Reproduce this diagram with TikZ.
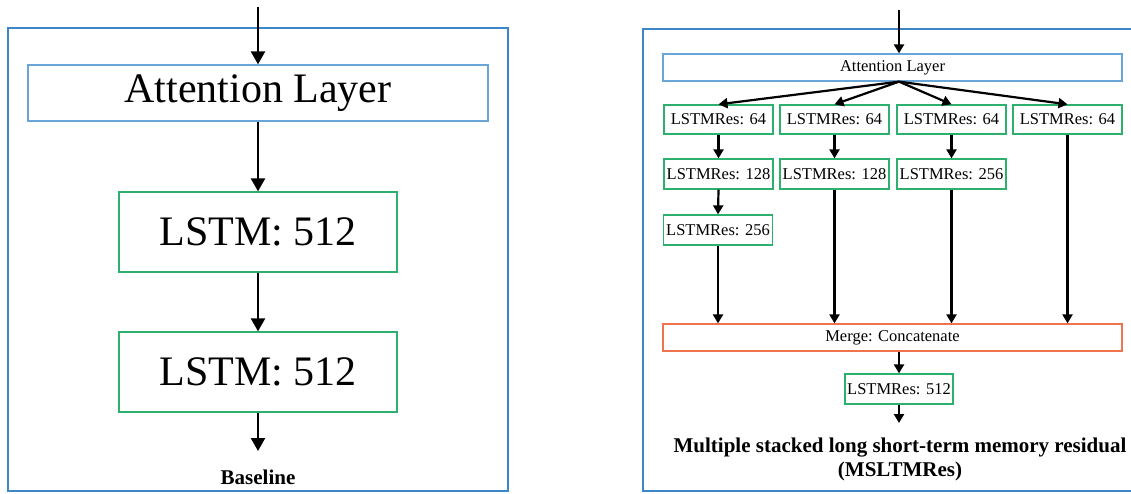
\documentclass[tikz,border=0pt]{standalone}
\usepackage{fontspec}
\setmainfont{Liberation Serif}
\usetikzlibrary{arrows.meta}
\definecolor{frameblue}{RGB}{60,135,200}
\definecolor{boxblue}{RGB}{105,165,215}
\definecolor{boxgreen}{RGB}{45,175,110}
\definecolor{boxorange}{RGB}{240,115,80}
\tikzset{
  bigbox/.style={draw=#1, line width=1.3pt, inner sep=0pt,
    font=\fontsize{42}{48}\selectfont},
  smallbox/.style={draw=#1, line width=1.3pt, inner sep=0pt,
    font=\fontsize{16.5}{19}\selectfont},
  bigarrow/.style={line width=2.4pt, -{Triangle[length=13pt,width=14pt]}},
  smallarrow/.style={line width=2.2pt, -{Triangle[length=9pt,width=10pt]}},
}
\begin{document}
\begin{tikzpicture}[x=1pt,y=-1pt]
  \useasboundingbox (0,0) rectangle (1131,493);
  %% panel frames
  \draw[frameblue, line width=1.3pt] (8,28) rectangle (508,491);
  \draw[frameblue, line width=1.3pt] (643,29) rectangle (1136,491);

  %% left : baseline
  \coordinate (inL) at (258,7);
  \coordinate (outL) at (258,451);
  \node[bigbox=boxblue, minimum width=460pt, minimum height=56pt]
    (attL) at (258,93) {Attention Layer};
  \node[bigbox=boxgreen, minimum width=278pt, minimum height=80pt]
    (lstmA) at (258,232) {LSTM: 512};
  \node[bigbox=boxgreen, minimum width=278pt, minimum height=80pt]
    (lstmB) at (258,372) {LSTM: 512};
  \node[font=\fontsize{21}{24}\selectfont\bfseries] (baseL) at (258,477) {Baseline};
  \draw[bigarrow] (inL) -- (attL.north);
  \draw[bigarrow] (attL.south) -- (lstmA.north);
  \draw[bigarrow] (lstmA.south) -- (lstmB.north);
  \draw[bigarrow] (lstmB.south) -- (outL);

  %% right : MSLTMRes
  \coordinate (inR) at (899,10);
  \coordinate (outR) at (899,423);
  \node[smallbox=boxblue, minimum width=459pt, minimum height=27pt]
    (attR) at (892.5,67.5) {Attention Layer};
  \coordinate (hub) at (attR.south -| inR);
  \foreach \x [count=\i] in {718.5, 834.5, 951.5, 1067.5}
    \node[smallbox=boxgreen, minimum width=109pt, minimum height=29pt]
      (ra\i) at (\x,119.5) {LSTMRes: 64};
  \foreach \x/\u [count=\i] in {718.5/128, 834.5/128, 951.5/256}
    \node[smallbox=boxgreen, minimum width=109pt, minimum height=30pt]
      (rb\i) at (\x,174) {LSTMRes: \u};
  \node[smallbox=boxgreen, minimum width=109pt, minimum height=30pt]
    (rc1) at (718,230) {LSTMRes: 256};
  \node[smallbox=boxorange, minimum width=459pt, minimum height=27pt]
    (merge) at (892.5,337.5) {Merge: Concatenate};
  \node[smallbox=boxgreen, minimum width=108pt, minimum height=30pt]
    (res) at (899,389) {LSTMRes: 512};
  \node[font=\fontsize{21}{24}\selectfont\bfseries, align=center]
    (titleR) at (900,459) {Multiple stacked long short-term memory residual\\(MSLTMRes)};

  \draw[smallarrow] (inR) -- (inR |- attR.north);
  \foreach \i in {1,...,4} \draw[smallarrow] (hub) -- (ra\i.north);
  \foreach \i in {1,...,3} \draw[smallarrow] (ra\i.south) -- (rb\i.north);
  \draw[smallarrow] (rb1.south) -- (rc1.north);
  \draw[smallarrow] (rc1.south) -- (rc1.south |- merge.north);
  \draw[smallarrow] (rb2.south) -- (rb2.south |- merge.north);
  \draw[smallarrow] (rb3.south) -- (rb3.south |- merge.north);
  \draw[smallarrow] (ra4.south) -- (ra4.south |- merge.north);
  \draw[smallarrow] (merge.south -| res.north) -- (res.north);
  \draw[smallarrow] (res.south) -- (outR);
\end{tikzpicture}
\end{document}
